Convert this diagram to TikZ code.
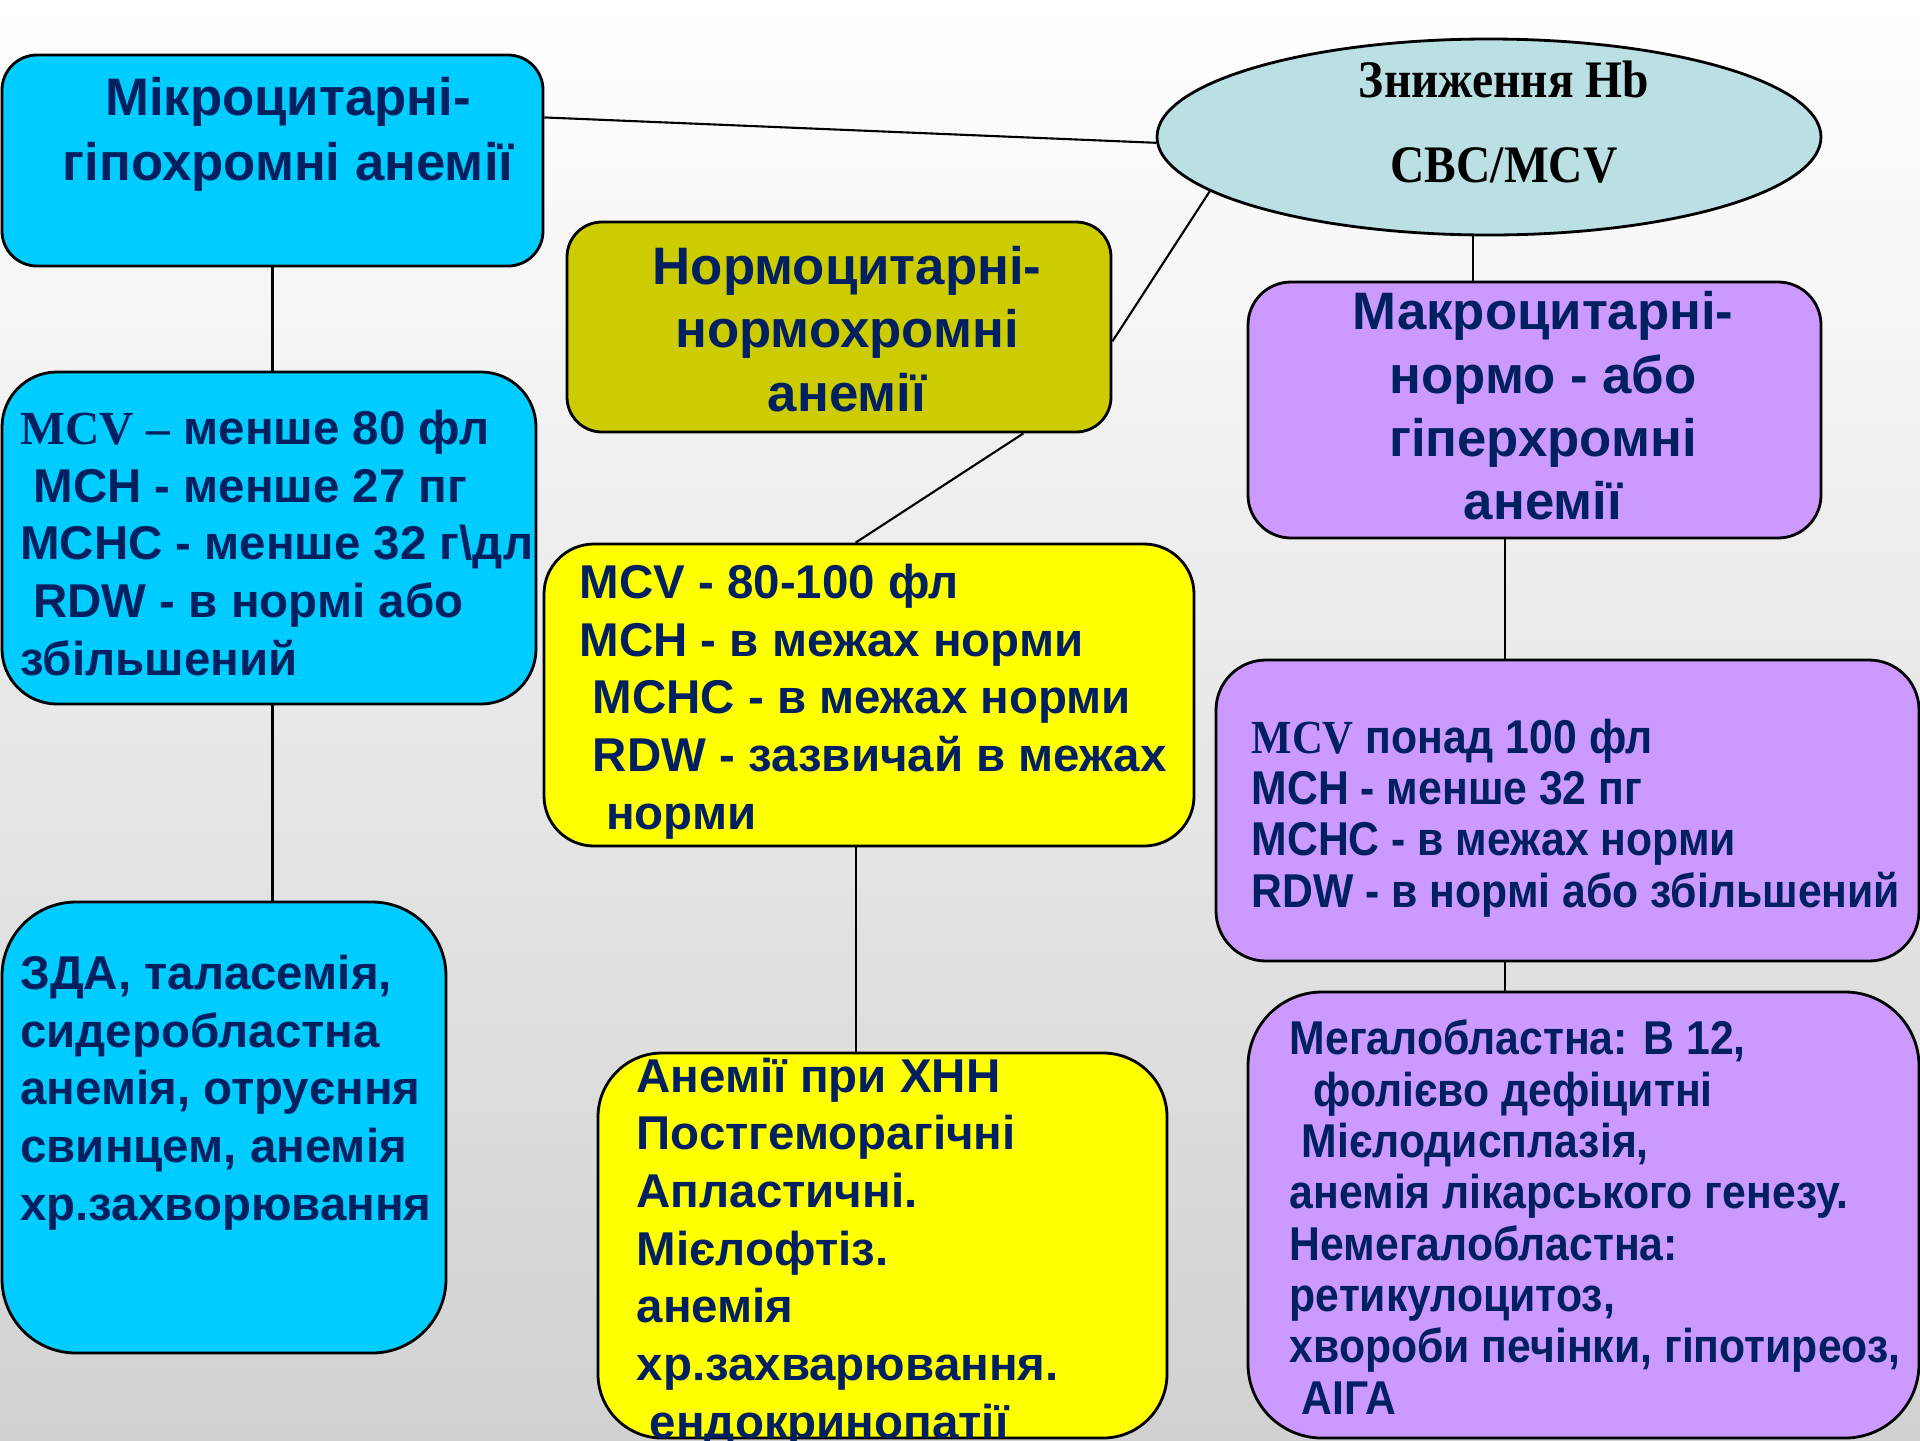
\documentclass[tikz,border=0pt]{standalone}
\usepackage{fontspec}
\setmainfont{Liberation Sans}
\newfontfamily\timesbf{Liberation Serif}
\newfontfamily\ellserif[FakeStretch=0.9]{Liberation Serif}
\newfontfamily\narrowsans[FakeStretch=0.9]{Liberation Sans}
\newfontfamily\narrowserif[FakeStretch=0.9]{Liberation Serif}
\usepackage{tikz}
\usetikzlibrary{shapes.geometric,calc}
\definecolor{microcyan}{HTML}{00CCFF}
\definecolor{normolive}{HTML}{CCCC00}
\definecolor{normyellow}{HTML}{FFFF00}
\definecolor{macroviolet}{HTML}{CC99FF}
\definecolor{hbblue}{HTML}{BAE0E4}
\definecolor{navytext}{HTML}{002060}
\newcommand\mcvtimes{{\timesbf MCV}}
\newcommand\mcvnarrow{{\narrowserif MCV}}

\begin{document}
\begin{tikzpicture}[
  box/.style={draw=black, line width=0.8pt, rounded corners=#1},
  box/.default=0.4cm,
  link/.style={draw=black, line width=0.6pt},
  titletxt/.style={text=navytext, align=center, inner sep=0pt,
    font=\fontsize{15}{18}\selectfont\bfseries},
  listtxt/.style={text=navytext, align=left, inner sep=0pt, anchor=base west,
    font=\fontsize{13.5}{16.4}\selectfont\bfseries},
  narrowtxt/.style={text=navytext, align=left, inner sep=0pt, anchor=base west,
    font=\narrowsans\fontsize{13.5}{14.6}\selectfont\bfseries}]
\useasboundingbox (0,0) rectangle (19.2,-14.4);
\shade[top color=white, middle color=black!3, bottom color=black!18] (0,0) rectangle (19.2,-14.4);

% boxes
\node[box=0.35cm, fill=microcyan, minimum width=5.41cm, minimum height=2.11cm] (micro) at (2.725,-1.605) {};
\node[draw=black, line width=0.8pt, ellipse, fill=hbblue, minimum width=6.64cm, minimum height=1.96cm] (hb) at (14.89,-1.37) {};
\node[box=0.35cm, fill=normolive, minimum width=5.44cm, minimum height=2.10cm] (normo) at (8.39,-3.27) {};
\node[box=0.43cm, fill=macroviolet, minimum width=5.73cm, minimum height=2.56cm] (macro) at (15.345,-4.10) {};
\node[box=0.55cm, fill=microcyan, minimum width=5.34cm, minimum height=3.32cm] (microp) at (2.69,-5.38) {};
\node[box=0.50cm, fill=normyellow, minimum width=6.50cm, minimum height=3.02cm] (normop) at (8.69,-6.95) {};
\node[box=0.50cm, fill=macroviolet, minimum width=7.03cm, minimum height=3.01cm] (macrop) at (15.675,-8.105) {};
\node[box=0.74cm, fill=microcyan, minimum width=4.44cm, minimum height=4.51cm] (microc) at (2.24,-11.275) {};
\node[box=0.64cm, fill=normyellow, minimum width=5.69cm, minimum height=3.85cm] (normc) at (8.825,-12.455) {};
\node[box=0.74cm, fill=macroviolet, minimum width=6.71cm, minimum height=4.46cm] (macroc) at (15.835,-12.15) {};

% connectors
\draw[link] (micro.9.5) -- (hb.181);
\draw[link] (hb.191.4) -- (normo.-3);
\draw[link] (hb.-99.2) -- (hb.-99.2 |- macro.north);
\draw[link] (micro.south) -- (micro.south |- microp.north);
\draw[link] (micro.south |- microp.south) -- (micro.south |- microc.north);
\draw[link] (normo.-30.2) -- (normop.95.8);
\draw[link] (normop.-95.8) -- (normop.-95.8 |- normc.north);
\draw[link] (macro.-103.45) -- (macro.-103.45 |- macrop.north);
\draw[link] (macro.-103.45 |- macrop.south) -- (macro.-103.45 |- macroc.north);

% texts
\node[titletxt, font=\fontsize{15}{18.5}\selectfont\bfseries] (microtxt) at (2.88,-1.34) {Мікроцитарні-\\гіпохромні анемії};
\node[text=black, align=center, inner sep=0pt, font=\ellserif\fontsize{15}{24}\selectfont\bfseries] (hbtxt) at (15.04,-1.22) {Зниження Hb\\CBC/MCV};
\node[titletxt] (normotxt) at (8.47,-3.29) {Нормоцитарні-\\нормохромні\\анемії};
\node[titletxt] (macrotxt) at (15.43,-4.06) {Макроцитарні-\\нормо - або\\гіперхромні\\анемії};
\node[listtxt] (micropar) at (0.196,-6.75) {\mcvtimes\ {\timesbf –} менше 80 фл\\\ MCH - менше 27 пг\\MCHC - менше 32 г\textbackslash дл\\\ RDW - в нормі або\\збільшений};
\node[listtxt] (normopar) at (5.79,-8.29) {MCV - 80-100 фл\\MCH - в межах норми\\\ MCHC - в межах норми\\\ RDW - зазвичай в межах\\\ \ норми};
\node[narrowtxt] (macropar) at (12.51,-9.07) {\mcvnarrow\ понад 100 фл\\MCH - менше 32 пг\\MCHC - в межах норми\\RDW - в нормі або збільшений};
\node[listtxt] (microcau) at (0.196,-12.20) {ЗДА, таласемія,\\сидеробластна\\анемія, отруєння\\свинцем, анемія\\хр.захворювання};
\node[listtxt] (normocau) at (6.36,-14.38) {Анемії при ХНН\\Постгеморагічні\\Апластичні.\\Мієлофтіз.\\анемія\\хр.захварювання.\\\ ендокринопатії};
\node[narrowtxt] (macrocau) at (12.89,-14.14) {Мегалобластна: В 12,\\\ \ фолієво дефіцитні\\\ Мієлодисплазія,\\анемія лікарського генезу.\\Немегалобластна:\\ретикулоцитоз,\\хвороби печінки, гіпотиреоз,\\\ АІГА};
\end{tikzpicture}
\end{document}
